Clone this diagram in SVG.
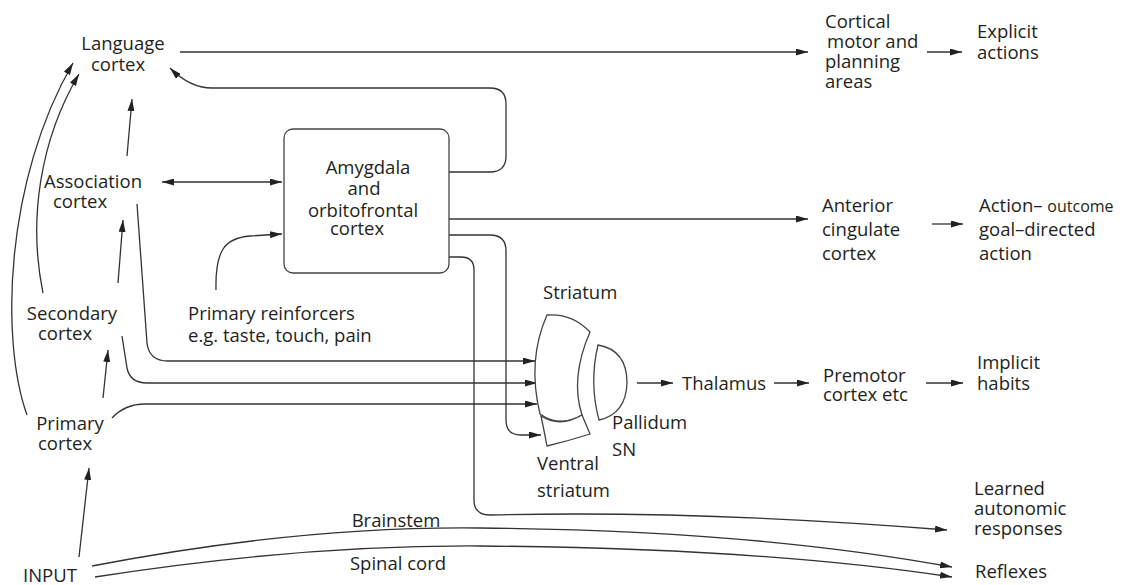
<svg xmlns="http://www.w3.org/2000/svg" width="1132" height="585" viewBox="0 0 1132 585">
<style>
text{font-family:"Open Sans","Liberation Sans",sans-serif;font-size:18.5px;fill:#231f20}
.m{text-anchor:middle}
.c{fill:none;stroke:#333;stroke-width:1.3}
.s{fill:#fff;stroke:#444;stroke-width:1.3}
.small{font-size:16px}
</style>
<defs>
<marker id="ah" viewBox="0 0 12 7" refX="12" refY="3.5" markerWidth="12" markerHeight="7" markerUnits="userSpaceOnUse" orient="auto-start-reverse">
<path d="M0,0 L12,3.5 L0,7 Z" fill="#222"/>
</marker>
</defs>
<rect width="1132" height="585" fill="#fff"/>

<g id="connectors">
<path class="c" d="M180,52 H808" marker-end="url(#ah)"/>
<path class="c" d="M927,52 H962" marker-end="url(#ah)"/>
<path class="c" d="M449,172 H490 Q506,172 506,156 V104 Q506,88 490,88 H212 Q190,88 170,68" marker-end="url(#ah)"/>
<path class="c" d="M162,182 H282" marker-start="url(#ah)" marker-end="url(#ah)"/>
<path class="c" d="M127,156 L132,99" marker-end="url(#ah)"/>
<path class="c" d="M118,283 L123,220" marker-end="url(#ah)"/>
<path class="c" d="M103,398 L108,350" marker-end="url(#ah)"/>
<path class="c" d="M79,557 L89,468" marker-end="url(#ah)"/>
<path class="c" d="M27,415 C0,340 5,180 73,63" marker-end="url(#ah)"/>
<path class="c" d="M43,293 C28,220 40,140 79,74" marker-end="url(#ah)"/>
<path class="c" d="M137,204 L147,343 Q149,361 168,361 H535" marker-end="url(#ah)"/>
<path class="c" d="M122,336 L127,368 Q130,383 147,383 H537" marker-end="url(#ah)"/>
<path class="c" d="M112,418 Q125,404 145,404 H537" marker-end="url(#ah)"/>
<path class="c" d="M216,290 C215,250 225,238 250,236 L282,234" marker-end="url(#ah)"/>
<path class="c" d="M449,219 H808" marker-end="url(#ah)"/>
<path class="c" d="M932,224 H963" marker-end="url(#ah)"/>
<path class="c" d="M449,235 H490 Q506,235 506,251 V420 Q506,435 521,435 H541" marker-end="url(#ah)"/>
<path class="c" d="M449,257 H461 Q474,257 474,270 V500 Q474,515 490,515 Q700,510 947,530" marker-end="url(#ah)"/>
<path class="c" d="M637,383 H673" marker-end="url(#ah)"/>
<path class="c" d="M774,383 H809" marker-end="url(#ah)"/>
<path class="c" d="M926,383 H963" marker-end="url(#ah)"/>
<path class="c" d="M92,566 Q300,526 480,528 Q750,530 952,567" marker-end="url(#ah)"/>
<path class="c" d="M95,577 Q300,545 480,546 Q760,548 952,577" marker-end="url(#ah)"/>
</g>

<g id="language-cortex"><text class="m" x="123" y="50">Language</text><text class="m" x="118" y="71">cortex</text></g>
<g id="association-cortex"><text class="m" x="93" y="188">Association</text><text class="m" x="80" y="208">cortex</text></g>
<g id="secondary-cortex"><text class="m" x="72" y="320">Secondary</text><text class="m" x="65" y="340">cortex</text></g>
<g id="primary-cortex"><text class="m" x="70" y="430">Primary</text><text class="m" x="65" y="450">cortex</text></g>
<g id="input"><text x="23" y="582">INPUT</text></g>
<g id="primary-reinforcers"><text x="188" y="320">Primary reinforcers</text><text x="188" y="342">e.g. taste, touch, pain</text></g>
<g id="amygdala">
<rect class="s" x="284" y="129" width="165" height="144" rx="9"/>
<text class="m" x="368" y="174">Amygdala</text><text class="m" x="364" y="195">and</text><text class="m" x="363" y="217">orbitofrontal</text><text class="m" x="357" y="235">cortex</text>
</g>
<g id="cortical-motor"><text x="825" y="28">Cortical</text><text x="827" y="48">motor and</text><text x="825" y="68">planning</text><text x="825" y="88">areas</text></g>
<g id="explicit-actions"><text x="977" y="38">Explicit</text><text x="977" y="59">actions</text></g>
<g id="anterior-cingulate"><text x="822" y="212">Anterior</text><text x="822" y="236">cingulate</text><text x="822" y="260">cortex</text></g>
<g id="action-outcome"><text x="979" y="212">Action– <tspan class="small">outcome</tspan></text><text x="979" y="236">goal–directed</text><text x="979" y="260">action</text></g>
<g id="striatum">
<text x="543" y="299">Striatum</text>
<path class="s" d="M547,315 Q572,313 590,332 Q570,378 582,415 Q560,428 540,414 Q527,360 547,315 Z"/>
<path class="s" d="M541,416 Q560,428 582,415 L590,434 Q568,441 547,446 Q544,430 541,416 Z"/>
</g>
<g id="pallidum">
<path class="s" d="M598,345 Q627,350 627,383 Q626,414 599,420 Q589,383 598,345 Z"/>
<text x="612" y="429">Pallidum</text><text x="612" y="456">SN</text>
</g>
<g id="ventral-striatum"><text x="537" y="470">Ventral</text><text x="537" y="497">striatum</text></g>
<g id="thalamus"><text x="682" y="390">Thalamus</text></g>
<g id="premotor"><text x="823" y="382">Premotor</text><text x="823" y="401">cortex etc</text></g>
<g id="implicit-habits"><text x="977" y="369">Implicit</text><text x="977" y="390">habits</text></g>
<g id="learned-autonomic"><text x="974" y="495">Learned</text><text x="974" y="515">autonomic</text><text x="974" y="535">responses</text></g>
<g id="reflexes"><text x="975" y="578">Reflexes</text></g>
<g id="brainstem"><text class="m" x="396" y="527">Brainstem</text></g>
<g id="spinal-cord"><text class="m" x="398" y="570">Spinal cord</text></g>
</svg>
